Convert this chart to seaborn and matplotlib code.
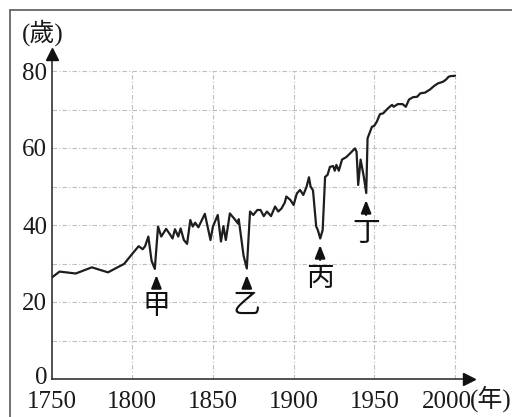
import matplotlib
matplotlib.use("Agg")
import matplotlib.pyplot as plt
import matplotlib.transforms as mtransforms
import seaborn as sns
import pandas as pd
from matplotlib.lines import Line2D

# life expectancy series
years = [1750, 1755, 1765, 1775, 1785, 1795, 1800, 1804, 1806.5, 1808, 1810, 1812, 1814,
         1816, 1818, 1821, 1823, 1825, 1826.5, 1828.5, 1830, 1832, 1834, 1836, 1837.5,
         1839, 1841, 1845, 1846.5, 1848.5, 1850, 1853, 1855, 1856.5, 1858, 1860.5, 1863.5,
         1865.5, 1866, 1869, 1871, 1873, 1875, 1877.5, 1879.5, 1881.5, 1883.5, 1886, 1888.5,
         1890.5, 1892.5, 1894.5, 1895.5, 1898, 1900, 1902, 1904, 1906, 1908, 1909.5, 1910.5,
         1912, 1914, 1915, 1916.5, 1918, 1919.5, 1921, 1922.5, 1924.5, 1925.5, 1926.5, 1928,
         1930, 1932.5, 1935, 1938, 1939, 1940, 1941.5, 1943.5, 1945, 1945.8, 1948.5, 1950,
         1951.5, 1953.5, 1955.5, 1957.5, 1959.5, 1961, 1962, 1964.5, 1967.5, 1969.5, 1971.5,
         1974, 1976.5, 1978.5, 1981.5, 1984.5, 1987, 1989.5, 1992.5, 1994.5, 1996, 1997.5,
         1999, 2000]
ages = [26.3, 27.9, 27.4, 29.0, 27.7, 29.9, 32.5, 34.5, 33.7, 34.5, 37.0, 30.7, 28.6,
        39.6, 37.0, 39.0, 37.8, 36.5, 38.9, 37.0, 39.1, 36.1, 35.1, 41.3, 39.6,
        40.6, 39.4, 42.9, 40.0, 36.1, 39.6, 42.6, 35.7, 39.7, 36.1, 43.0, 41.5,
        40.4, 41.5, 32.0, 28.7, 43.5, 42.6, 43.9, 43.9, 42.3, 43.5, 42.3, 44.8,
        43.5, 44.3, 45.8, 47.4, 46.5, 45.2, 48.2, 49.1, 47.8, 49.9, 52.4, 50.0,
        49.0, 39.6, 38.7, 36.5, 38.7, 52.5, 53.0, 55.1, 55.3, 54.1, 55.6, 54.1,
        57.0, 57.6, 58.6, 59.9, 59.0, 50.4, 57.0, 52.5, 48.3, 62.5, 65.5, 65.8,
        66.8, 68.8, 69.0, 69.9, 70.7, 71.2, 70.7, 71.4, 71.4, 70.7, 72.6,
        73.2, 73.3, 74.2, 74.4, 75.2, 76.1, 76.8, 77.2, 77.8, 78.5, 78.7,
        78.7, 78.8]

x_ticks = [1750, 1800, 1850, 1900, 1950, 2000]
y_major = [0, 20, 40, 60, 80]
y_minor = [10, 30, 50, 70]

# marked events: label, year, arrow tip, label centre
marks = ["甲", "乙", "丙", "丁"]
mark_years = [1815, 1871, 1916.4, 1944.9]
mark_tips = [27.0, 27.0, 34.8, 46.5]
mark_text_y = [19.0, 19.2, 26.2, 37.9]

df = pd.DataFrame({"year": years, "age": ages})

sns.set_style("white")
plt.rcParams["font.family"] = ["Liberation Serif", "Noto Sans CJK TC"]

fig = plt.figure(figsize=(5.12, 4.17), dpi=100)
ax = fig.add_axes([51.5 / 512, 38 / 417, 422.9 / 512, 331.1 / 417])

# grid only inside the data box
grid_style = dict(colors="#bdbdbd", linewidth=0.8, linestyles=(0, (4, 2, 1, 2)), zorder=0)
ax.hlines(y_major + y_minor, x_ticks[0], x_ticks[-1], **grid_style)
ax.vlines(x_ticks[1:], 0, 80, **grid_style)

sns.lineplot(data=df, x="year", y="age", ax=ax, color="#1e1e1e", linewidth=1.6,
             estimator=None, sort=False, zorder=3)

ax.set_xlim(1750, 2012)
ax.set_ylim(0, 86)
ax.set_xlabel("")
ax.set_ylabel("")
ax.set_xticks(x_ticks)
ax.set_yticks(y_major)
ax.set_yticks(y_minor, minor=True)
ax.tick_params(axis="both", which="both", direction="in", length=6, width=1.0,
               color="#222222", labelsize=18, labelcolor="#1a1a1a")
ax.tick_params(axis="y", pad=3)
ax.tick_params(axis="x", pad=9)

# last year label sits a little left to leave room for the unit
last = ax.get_xticklabels()[-1]
last.set_transform(last.get_transform() + mtransforms.ScaledTranslation(-8 / 100, 0, fig.dpi_scale_trans))
# the zero label sits slightly above the axis line
zero = ax.get_yticklabels()[0]
zero.set_transform(zero.get_transform() + mtransforms.ScaledTranslation(0, 3 / 100, fig.dpi_scale_trans))

for side in ["top", "right"]:
    ax.spines[side].set_visible(False)
for side in ["left", "bottom"]:
    ax.spines[side].set_color("#222222")
    ax.spines[side].set_linewidth(1.1)
ax.spines["left"].set_bounds(0, 84.5)
ax.spines["bottom"].set_bounds(1750, 2008)
ax.plot(1750, 84.5, marker="^", ms=8, color="#111111", clip_on=False, zorder=5)
ax.plot(2008.5, 0, marker=">", ms=8, color="#111111", clip_on=False, zorder=5)

for lab, xv, tip, ty in zip(marks, mark_years, mark_tips, mark_text_y):
    ax.annotate(lab, xy=(xv, tip), xytext=(xv, ty), ha="center", va="center",
                fontsize=20, family=["Noto Sans CJK TC"], color="#111111",
                arrowprops=dict(arrowstyle="-|>,head_width=0.15,head_length=0.38",
                                color="#111111", lw=1.6, shrinkA=0, shrinkB=0))

fig.text(22 / 512, 1 - 33 / 417, "(歲)", fontsize=18, ha="left", va="center",
         color="#1a1a1a")
fig.text(470 / 512, 1 - 399 / 417, "(年)", fontsize=18, ha="left", va="center",
         color="#1a1a1a")

# outer frame (only top and left edges show)
fig.add_artist(Line2D([10 / 512, 10 / 512], [0, 1 - 10 / 417], transform=fig.transFigure,
                      color="#666666", linewidth=1.3))
fig.add_artist(Line2D([10 / 512, 1], [1 - 10 / 417, 1 - 10 / 417], transform=fig.transFigure,
                      color="#666666", linewidth=1.3))

fig.savefig("out.png", dpi=100)
